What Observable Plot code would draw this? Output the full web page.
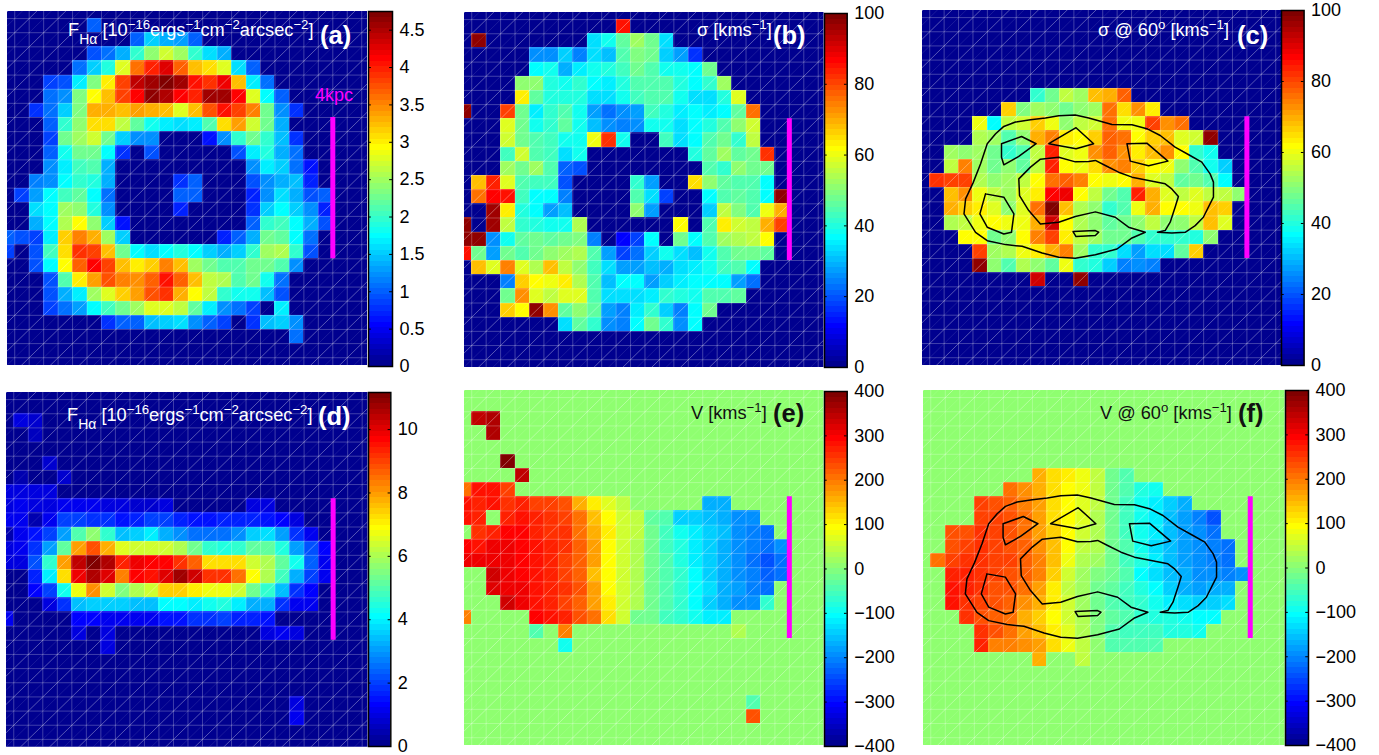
<!DOCTYPE html>
<html><head><meta charset="utf-8">
<script src="https://cdn.jsdelivr.net/npm/d3@7"></script>
<script src="https://cdn.jsdelivr.net/npm/@observablehq/plot@0.6"></script>
<style>
html,body{margin:0;padding:0;background:#fff;overflow:hidden}
#fig{position:relative;width:1379px;height:755px;font-family:"Liberation Sans",Arial,sans-serif}
#fig svg{position:absolute;background:transparent;overflow:visible}
.t{position:absolute;white-space:nowrap;font-size:18.2px;line-height:20px}
.t sup{font-size:13.2px;line-height:0;position:relative;top:-7px;vertical-align:baseline}
.t sub{font-size:14px;line-height:0;position:relative;top:8px;vertical-align:baseline}
.b{position:absolute;white-space:nowrap;font-size:25.5px;font-weight:bold;line-height:28px}
</style></head><body><div id="fig"></div>
<script>
// each row: [row, first column, values from that column on]; every other cell is 0
const fluxA=[
[1,6,1.0],
[2,9,1.0,1.5,1.4,1.3,1.0],
[3,6,.9,1.05,1.4,1.95,2.4,2.7,2.45,2.0,1.6,1.35],
[4,5,1.1,1.5,1.9,2.75,3.6,4.0,4.3,3.65,3.2,3.05,2.8,1.6,1.0],
[5,3,.85,.9,1.7,2.35,3.0,3.85,4.4,4.6,4.7,4.55,4.05,3.9,4.2,3.2,1.7,1.1],
[6,3,1.05,1.2,2.35,2.95,3.25,3.85,4.1,4.65,4.5,4.1,3.95,4.55,4.6,4.15,2.8,1.75,1.0],
[7,2,.75,1.05,1.5,2.35,3.3,3.3,3.2,3.4,3.3,3.2,2.75,3.2,3.75,4.05,3.8,3.5,2.3,1.25,.8],
[8,3,1.0,2.0,2.4,3.05,3.05,2.6,2.2,1.8,1.65,1.6,1.7,2.1,3.1,3.4,2.7,2.3,1.4],
[9,3,.85,2.25,2.5,2.7,2.25,1.5,1.2,1.2,0,0,0,.6,1.2,2.0,2.3,2.0,1.45,.8],
[10,3,1.0,1.85,2.3,2.25,1.75,.8,0,.95,0,0,0,0,0,.95,1.7,1.9,1.4,1.05],
[11,3,1.25,1.7,2.05,2.1,1.35,0,0,0,0,0,0,0,0,0,1.25,1.65,1.55,1.05,.6],
[12,2,1.15,1.25,1.75,1.95,1.9,1.35,0,0,0,0,.8,1.0,0,0,0,.9,1.2,1.35,1.45,.7],
[13,1,.85,1.3,1.75,2.05,2.2,1.75,1.1,0,0,0,0,1.0,1.0,0,0,0,.7,1.25,1.6,1.4,.9,1.0],
[14,2,1.6,1.75,2.45,2.4,1.9,1.2,0,0,0,0,.7,0,0,0,0,.75,1.55,1.75,1.5,1.2,.7],
[15,2,1.4,1.75,2.55,2.9,2.4,1.55,.6,0,0,0,0,0,0,0,0,1.0,2.0,2.05,1.75,1.4,.95],
[16,0,1.0,.95,.85,1.7,3.15,3.5,3.3,2.45,1.5,0,0,0,0,0,0,.7,1.0,1.35,2.25,2.2,1.75,1.1],
[17,0,.85,0,.9,2.05,3.05,3.9,3.85,3.25,2.25,1.75,1.6,1.75,1.9,1.75,1.5,1.35,1.5,2.0,2.5,2.55,2.0,.9],
[18,2,.9,1.75,2.95,3.65,4.1,3.85,3.25,3.0,3.15,3.5,3.25,2.5,2.3,2.1,2.1,2.25,2.3,2.1,1.2],
[19,3,.95,2.1,3.0,3.35,3.75,3.55,3.45,3.7,4.05,3.7,3.25,2.65,2.55,2.15,2.25,1.85,1.1],
[20,3,.95,1.4,1.65,2.5,2.75,3.15,3.4,3.75,3.9,3.3,2.95,2.6,2.0,1.8,1.85,1.45,.9],
[21,3,.85,1.05,1.3,1.75,2.05,2.3,2.5,2.8,2.75,2.65,2.2,1.65,1.2,1.1,.85,0,1.65],
[22,7,.8,1.0,1.0,1.45,1.55,1.6,1.25,1.0,.85,0,.75,1.45,1.5,1.2],
[23,20,1.05]];
const sigmaB=[
[1,11,85],
[2,1,98,0,0,0,0,0,0,0,34,38,46,52,47,34],
[3,5,25,25,32,24,33,30,45,49,48,32,27,17],
[4,5,36,38,29,35,39,40,43,48,45,39,39,37,47],
[5,4,50,50,40,39,41,37,35,40,45,45,45,40,37,42,53],
[6,4,64,46,40,40,40,33,33,39,43,44,44,39,34,33,40,58],
[7,0,98,0,0,80,48,35,42,44,39,27,23,26,27,43,40,35,36,35,37,46,76],
[8,3,58,48,38,42,46,38,30,26,24,25,38,38,33,37,40,44,50,57],
[9,3,57,47,44,43,38,39,60,82,38,0,0,43,33,37,45,48,42,56],
[10,3,43,57,45,43,33,39,0,0,0,0,0,0,0,40,46,53,46,48,82],
[11,3,52,48,53,45,21,20,0,0,0,0,0,0,0,0,45,42,50,47,47],
[12,1,68,83,58,45,43,43,20,0,0,0,0,41,28,0,0,65,50,46,45,44,36],
[13,1,75,86,85,43,37,36,24,0,0,0,0,44,33,18,0,0,37,44,46,44,37,98],
[14,2,96,64,40,36,27,31,0,0,0,0,50,28,0,0,0,32,55,49,44,60,70],
[15,0,98,0,96,56,42,40,38,38,54,0,0,0,0,0,0,62,0,44,64,57,55,70,80],
[16,0,98,98,26,38,46,48,46,47,49,24,0,12,18,36,0,48,37,45,52,54,56,62],
[17,0,85,47,27,47,44,48,50,52,54,44,28,18,23,32,38,34,31,38,44,47,47,46],
[18,1,68,58,74,58,54,68,56,50,43,34,27,28,30,29,34,35,38,43,45,36],
[19,3,24,66,62,60,64,54,45,31,36,37,28,32,35,37,37,36,27,22],
[20,3,48,72,59,55,58,58,45,34,33,33,35,41,40,38,44,44,46],
[21,3,66,62,98,72,46,50,46,27,24,35,41,32,24,37,47],
[22,7,33,46,41,25,24,37,48,42,26,37]];
const sigmaC=[
[6,8,42,48,55,52,68,70,78],
[7,6,66,49,53,50,48,50,53,75,65,72,63],
[8,4,60,37,55,57,67,60,50,55,57,75,60,60,80,72,76],
[9,4,54,52,45,50,70,74,64,62,66,78,76,62,66,68,58,57,98],
[10,2,52,50,52,48,42,44,55,84,58,60,72,78,72,64,68,72,62,42,38],
[11,2,56,74,52,48,50,46,55,84,62,60,65,72,74,66,62,60,50,44,38,32],
[12,1,82,80,80,54,50,52,55,62,76,78,74,62,60,62,70,58,55,46,48,44,37],
[13,2,68,72,60,56,52,58,64,86,88,62,56,48,44,84,70,58,56,58,55,55,50],
[14,2,70,66,64,58,50,58,76,100,68,54,50,42,44,60,70,62,62,60,68,66],
[15,2,54,56,60,62,60,60,70,92,62,54,50,46,48,50,56,50,50,56,68,58],
[16,3,62,62,48,50,62,74,80,64,56,52,48,48,44,42,42,42,40,50],
[17,4,80,52,54,60,64,70,74,52,42,42,34,28,33,33,46,66],
[18,4,98,50,44,54,50,46,60,42,40,32,24,26,24],
[19,8,92,0,0,98]];
const fluxD=[
[2,1,.9,.8],
[3,2,.6],
[5,3,.8],
[6,1,.5,0,0,.7],
[7,0,1,1,1,.9],
[8,0,.9,1.1,1,.9,1.1,1.1,1.1,1,.9,.8,.8,.9,0,0,0,0,0,.9,.9],
[9,0,1.1,1.1,.5,1.2,2,2,1.9,1.9,1.4,1.6,2,2,1.6,1.5,1.5,1.7,1.6,1.7,1.5,1.3,1.0],
[10,0,.4,1.1,1.4,2,3.1,4.9,5.6,4.6,3.4,3.6,4.0,3.2,2.9,2.6,2.6,2.6,2.9,3.5,3.7,3.0,1.8,1.2],
[11,0,.9,1.1,1.8,3.0,5.2,7.9,8.9,7.8,6.5,6.4,6.3,6.4,6,5.4,4.6,4.5,4.6,5.1,5.2,4.5,3,2.1,1.3],
[12,0,1,1,2.2,4.6,7.9,10.3,11.1,10.5,9.4,9.9,9.6,9.7,9.2,8.6,7.2,7.2,7.2,6.3,6,5.1,4.3,2.4,1.2],
[13,2,1.6,4,7.3,9.8,10.6,10.1,8.3,9.6,9.5,10,10.8,10.2,9.1,9.2,8.5,6.9,6,4.8,3.3,2,1.2],
[14,2,1.3,2,4.3,6.7,8.1,6.4,5.5,6,6.4,7.5,7.4,7,6.8,6.7,6.3,5.3,4.7,3.4,1.8,1.3],
[15,3,1,1.9,3.4,3.6,3.6,3.5,3.4,3.4,4.1,4.1,3.9,4.3,4.4,3.9,3.2,3.2,1.9,1.2,1.1],
[16,0,1.2,0,0,0,0,1.3,1.3,1.2,1.2,1.2,1.2,1.5,1.4,1.8,1.9,2,1.6,1.6,1.4],
[17,5,1,0,1,0,0,0,0,0,0,0,0,0,0,1,1.1,1],
[18,7,.9],
[22,20,1],
[23,20,1.1]];
const velE=[
[2,1,340,350],
[3,2,355],
[5,3,390],
[6,4,345],
[7,0,205,280,285,240],
[8,0,275,270,275,255,270,245,240,225,150,110,70,40,0,0,0,0,0,-170,-175],
[9,0,285,265,0,270,280,265,255,245,205,145,95,55,40,-30,-50,-140,-150,-160,-165,-190,-195],
[10,1,255,270,290,290,270,260,250,210,160,100,50,40,-25,-55,-90,-115,-145,-160,-195,-205,-215],
[11,0,295,285,305,300,295,275,265,250,215,170,95,55,35,-25,-55,-80,-120,-145,-170,-190,-205,-220,-190],
[12,0,300,310,305,305,295,275,265,245,215,170,95,55,35,-25,-50,-80,-120,-145,-170,-195,-215,-240,-225],
[13,2,330,310,290,280,265,245,215,140,95,50,30,-20,-45,-75,-110,-140,-165,-190,-210,-235,-215],
[14,2,320,310,300,280,265,250,225,170,95,55,25,-20,-40,-70,-105,-135,-165,-185,-205,-225],
[15,3,325,300,280,265,245,215,165,100,60,25,-25,-45,-70,-105,-150,-165,-190,-200,-70],
[16,0,190,0,0,0,0,295,280,265,230,200,115,55,-15,-25,-55,-75,-100,-115,-115],
[17,5,-45,0,195,0,0,0,0,0,0,0,0,0,0,0,25],
[18,7,-90],
[22,20,-50],
[23,20,225]];
const velF=[
[6,8,150,115,100,75,45,-15,-45],
[7,6,200,185,150,115,95,75,45,-15,-50,-85,-90],
[8,4,240,235,220,195,170,115,90,70,40,-15,-55,-90,-115,-140,-170],
[9,4,245,240,225,205,165,120,90,70,35,-20,-55,-95,-125,-155,-180,-210,-245],
[10,2,225,235,250,245,230,200,170,125,90,60,30,-20,-60,-95,-125,-155,-180,-200,-215],
[11,2,235,240,260,245,235,215,175,140,90,45,25,-20,-50,-90,-130,-160,-185,-195,-205,-220],
[12,1,210,240,250,255,245,240,220,190,145,80,30,20,-20,-55,-80,-125,-160,-185,-195,-205,-220],
[13,2,265,270,260,240,235,215,190,125,50,15,-10,-25,-45,-105,-135,-155,-175,-190,-200,-205,-190],
[14,2,280,265,250,230,225,200,165,110,45,15,-15,-30,-55,-85,-105,-140,-165,-180,-175,-170],
[15,2,275,255,240,225,220,175,155,100,50,15,-15,-40,-55,-70,-95,-115,-130,-140,-140,-135],
[16,3,250,235,220,200,160,130,90,50,25,-10,-35,-50,-70,-80,-85,-100,-105,-110],
[17,4,260,225,205,170,140,100,70,30,-10,-40,-55,-60,-60,-80,-85,-95],
[18,4,265,195,190,180,165,120,75,45,5,-45,-45,-50,-50],
[19,8,150,0,0,45]];
// H-alpha flux contours in cell coordinates (column, row)
const contourOuter=[[3.38,14.85],[3.49,13.79],[4,12.68],[4.53,11.32],[4.99,9.9],[5.57,9.2],[6.14,8.68],[6.95,8.37],[7.99,8.21],[9.03,8.09],[9.95,7.93],[11.1,7.88],[12.03,8.09],[13.64,8.54],[15.03,8.56],[16.06,8.84],[16.99,9.32],[18.02,10.14],[19.06,10.73],[19.87,11.2],[20.45,12.03],[20.68,12.61],[20.68,13.67],[20.33,14.38],[19.98,15.09],[19.41,15.68],[18.72,16.15],[17.79,16.2],[16.8,16.15],[17.33,16.03],[17.68,15.44],[18.02,14.38],[18.25,13.63],[17.79,13.09],[17.33,12.73],[16.18,12.5],[15.03,12.26],[14.1,11.91],[13.18,11.44],[12.49,11.08],[12.03,11.15],[11.1,11.18],[9.95,10.85],[8.68,10.99],[7.99,11.55],[7.18,12.38],[7.23,13.56],[7.87,14.62],[8.68,15.56],[9.95,15.44],[11.1,15.04],[12.49,14.71],[13.87,15.09],[14.79,15.79],[15.95,16.15],[15.03,16.55],[13.99,17.33],[12.49,17.73],[11.1,17.98],[9.95,17.91],[8.8,17.61],[7.41,17.14],[6.26,17.02],[4.99,16.74],[4.18,16.15],[3.38,14.85]];
const contourUpperLeft=[[5.98,9.9],[7.37,9.39],[8.38,9.9],[7.18,10.8],[6.14,11.39],[5.98,10.85],[5.98,9.9]];
const contourUpperMid=[[9.26,9.9],[11.15,8.77],[12.37,9.9],[11.15,10.26],[9.26,9.9]];
const contourUpperRight=[[14.68,9.9],[16.06,9.86],[17.52,11.13],[16.18,11.46],[14.91,11.13],[14.68,9.9]];
const contourLeft=[[4.87,13.44],[6.14,13.67],[6.84,14.85],[6.67,16.15],[6.14,16.27],[4.99,15.79],[4.48,14.85],[4.87,13.44]];
const contourLow=[[10.94,16.1],[12.49,16.03],[12.72,16.15],[12.49,16.38],[11.15,16.45],[10.94,16.1]];
const contours=[contourOuter,contourUpperLeft,contourUpperMid,contourUpperRight,contourLeft,contourLow];
const scaleBarColumn=23, scaleBarRows=[8,18];
const ticksA=[0,.5,1,1.5,2,2.5,3,3.5,4,4.5], ticksD=[0,2,4,6,8,10], ticksS=[0,20,40,60,80,100], ticksV=[-400,-300,-200,-100,0,100,200,300,400];

const panels=[
 {rows:fluxA,dom:[0,4.75],ticks:ticksA,box:[6.7,11,360,354],bar:[367.7,10.5,24,355]},
 {rows:sigmaB,dom:[0,100],ticks:ticksS,box:[464,12,359.5,355],bar:[824,12.5,22.7,354]},
 {rows:sigmaC,dom:[0,100],ticks:ticksS,box:[921.7,10,359,355],bar:[1280.7,10.3,22.6,355],cont:true},
 {rows:fluxD,dom:[0,11.17],ticks:ticksD,box:[6,392,361.5,354.7],bar:[367.7,392.3,22.3,354]},
 {rows:velE,dom:[-400,400],ticks:ticksV,box:[464,390,359.5,355],bar:[824,390.5,22.7,355]},
 {rows:velF,dom:[-400,400],ticks:ticksV,box:[922.7,390,361.6,355],bar:[1284.7,390,23,355],cont:true}
];
// MATLAB jet(64)
const jet=d3.range(1,65).map(i=>{
 const b=i<=8?.5+i/16:i<=24?1:i<=40?1-(i-24)/16:0;
 const g=i<=8?0:i<=24?(i-8)/16:i<=40?1:i<=56?1-(i-40)/16:0;
 const r=i<=24?0:i<=40?(i-24)/16:i<=56?1:1-(i-56)/16;
 return d3.rgb(r*255,g*255,b*255).formatHex();
});
const colorOf=d=>({type:"threshold",domain:d3.range(1,64).map(i=>d[0]+(d[1]-d[0])*i/64),range:jet});
function grid(rows){
 const m=new Map();
 for(const [r,c,...vs] of rows) vs.forEach((v,i)=>m.set(r+"_"+(c+i),v));
 const out=[];
 for(let r=0;r<26;r++)for(let c=0;c<26;c++)out.push({r,c,v:m.get(r+"_"+c)??0});
 return out;
}
const fig=document.getElementById("fig");
const lineIdx=d3.range(1,26);
const diag=d3.cross(d3.range(0,26),d3.range(0,26),(u,v)=>({u,v}));
for(const p of panels){
 const [l,t,w,h]=p.box;
 const marks=[
  Plot.rect(grid(p.rows),{x1:"c",x2:d=>d.c+1,y1:"r",y2:d=>d.r+1,fill:"v",shapeRendering:"crispEdges",clip:true}),
  Plot.ruleX(lineIdx,{x:d=>d,stroke:"white",strokeOpacity:.25,strokeWidth:1,clip:true}),
  Plot.ruleY(lineIdx,{y:d=>d,stroke:"white",strokeOpacity:.25,strokeWidth:1,clip:true}),
  Plot.link(diag,{x1:"u",y1:d=>d.v+1,x2:d=>d.u+1,y2:"v",stroke:"white",strokeOpacity:d=>(d.u+d.v)%2?.1:.34,strokeWidth:1,clip:true}),
  Plot.ruleX([scaleBarColumn],{y1:scaleBarRows[0],y2:scaleBarRows[1],stroke:"#ff00ff",strokeWidth:5})
 ];
 if(p.cont) contours.forEach(c=>marks.push(Plot.line(c,{x:d=>d[0],y:d=>d[1],stroke:"black",strokeWidth:1.5})));
 const s=Plot.plot({width:w,height:h,margin:0,
  x:{domain:[.5,25.4],axis:null},y:{domain:[25.55,.5],axis:null},
  color:colorOf(p.dom),marks});
 s.style.left=l+"px";s.style.top=t+"px";fig.appendChild(s);

 const [bl,bt,bw,bh]=p.bar, pad=14, lo=p.dom[0], hi=p.dom[1], step=(hi-lo)/64;
 const cb=Plot.plot({width:bw+62,height:bh+2*pad,marginLeft:0,marginRight:62,marginTop:pad,marginBottom:pad,
  style:{fontFamily:"'Liberation Sans',Arial,sans-serif"},
  x:{domain:[0,1],axis:null},y:{domain:p.dom,axis:null},
  color:colorOf(p.dom),
  marks:[
   Plot.rect(d3.range(64),{x1:()=>0,x2:()=>1,y1:i=>lo+i*step,y2:i=>lo+(i+1)*step,fill:i=>lo+(i+.5)*step,shapeRendering:"crispEdges"}),
   Plot.ruleY(p.ticks,{x1:()=>0,x2:()=>.12,y:d=>d,stroke:"black",strokeWidth:1}),
   Plot.ruleY(p.ticks,{x1:()=>.88,x2:()=>1,y:d=>d,stroke:"black",strokeWidth:1}),
   Plot.frame({stroke:"black",strokeWidth:1.5}),
   Plot.axisY(p.ticks,{anchor:"right",tickSize:0,tickPadding:7,fontSize:18,fill:"black",tickFormat:d=>String(d).replace("-","\u2212")})
  ]});
 cb.style.left=bl+"px";cb.style.top=(bt-pad)+"px";fig.appendChild(cb);
}
const FH='F<sub>H\u03b1</sub> [10<sup>\u221216</sup>ergs<sup>\u22121</sup>cm<sup>\u22122</sup>arcsec<sup>\u22122</sup>]';
const labels=[
 [68,20,FH,"#fff"],[697,20,'\u03c3 [kms<sup>\u22121</sup>]',"#fff"],[1098,20,'\u03c3 @ 60<sup>o</sup> [kms<sup>\u22121</sup>]',"#fff"],
 [67,405,FH,"#fff"],[691,403,'V [kms<sup>\u22121</sup>]',"#111"],[1100,403,'V @ 60<sup>o</sup> [kms<sup>\u22121</sup>]',"#111"]];
const tags=[[320,21,"(a)","#fff"],[773,21,"(b)","#fff"],[1237,21,"(c)","#fff"],[318,402,"(d)","#fff"],[773,399,"(e)","#111"],[1238,399,"(f)","#111"]];
for(const [x,y,h,c] of labels){const e=document.createElement("div");e.className="t";e.style.cssText=`left:${x}px;top:${y}px;color:${c}`;e.innerHTML=h;fig.appendChild(e);}
for(const [x,y,h,c] of tags){const e=document.createElement("div");e.className="b";e.style.cssText=`left:${x}px;top:${y}px;color:${c}`;e.textContent=h;fig.appendChild(e);}
const k=document.createElement("div");k.className="t";k.style.cssText="left:315px;top:85px;color:#ff00ff;font-size:18px";k.textContent="4kpc";fig.appendChild(k);
</script></body></html>
